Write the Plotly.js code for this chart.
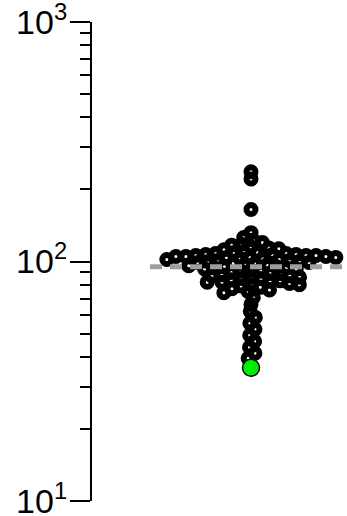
<!DOCTYPE html>
<html><head><meta charset="utf-8">
<script src="https://cdn.plot.ly/plotly-3.0.1.min.js"></script>
<style>html,body{margin:0;padding:0;background:#fff}#chart{width:347px;height:516px}</style></head>
<body><div id="chart"></div>
<script>
// Data (log scale values)
const values = [
  237, 221, 165,
  132, 126, 123, 120, 118, 117, 115, 114, 113, 112,
  110, 109, 109, 108, 108, 107, 107, 107, 106, 106, 106, 105, 105, 105, 104, 104, 104,
  103, 103, 102, 102, 101, 101, 100, 100,
  99, 99, 98, 98, 97, 97, 96, 95, 95, 94, 94, 93, 93, 92, 91, 91,
  90, 89, 89, 88, 87, 87, 86, 86, 85, 85, 84, 83, 83, 82, 82, 81, 80, 80, 79, 78, 77, 76, 75, 74,
  70.8, 66.2, 61.9, 58.4, 55.2, 52.1, 49.2, 46.4, 43.8, 41.4, 39.4
];
const highlightValues = [36];
const referenceValue = 95;
const tickValues = [10, 100, 1000];
const tickLabels = ['10<sup>1</sup>', '10<sup>2</sup>', '10<sup>3</sup>'];

const W = 347, H = 516, M = {l: 92, r: 0, t: 22, b: 15};
const plotH = H - M.t - M.b;
const yMin = 0.9995, yMax = 3.0005;
const xRange = [-159, 96];   // pixel-offset units around the swarm centre
const lineStart = -101;
function yPix(v) { return (yMax - Math.log10(v)) / (yMax - yMin) * plotH; }

// swarm layout computed from the values (elliptical spacing)
const DX = 10, DY = 7;
const sorted = values.slice().sort((a, b) => b - a);
const placed = [];
const ok = (x, y) => placed.every(p => ((p.x - x) / DX) ** 2 + ((p.y - y) / DY) ** 2 >= 1 - 1e-6);
sorted.forEach(v => {
  const y = yPix(v);
  const cands = [0];
  placed.forEach(p => {
    const dy = Math.abs(p.y - y);
    if (dy < DY) { const dx = DX * Math.sqrt(1 - (dy / DY) ** 2); cands.push(p.x + dx, p.x - dx); }
  });
  cands.sort((a, b) => Math.abs(a) - Math.abs(b) || a - b);
  for (const x of cands) { if (ok(x, y)) { placed.push({x, y, v}); break; } }
});

const minorVals = [];
for (let e = 1; e < 3; e++) for (let k = 2; k <= 9; k++) minorVals.push(k * Math.pow(10, e));

const traces = [
  {
    type: 'scatter', mode: 'markers',
    x: placed.map(p => p.x), y: placed.map(p => p.v),
    marker: {symbol: 'circle-open', size: 9, color: '#000000', line: {width: 6}},
    hoverinfo: 'y', showlegend: false
  },
  {
    type: 'scatter', mode: 'lines',
    x: [lineStart, xRange[1] + 10], y: [referenceValue, referenceValue],
    line: {color: '#9e9e9e', width: 5, dash: '12px,8px'},
    hoverinfo: 'skip', showlegend: false
  },
  {
    type: 'scatter', mode: 'markers',
    x: highlightValues.map(() => 0), y: highlightValues,
    marker: {size: 17, color: '#00ee00', line: {color: '#000000', width: 1.5}},
    hoverinfo: 'y', showlegend: false
  }
];

const layout = {
  width: W, height: H,
  margin: M,
  paper_bgcolor: '#ffffff', plot_bgcolor: '#ffffff',
  showlegend: false,
  xaxis: {range: xRange, visible: false, fixedrange: true},
  yaxis: {
    type: 'log', range: [yMin, yMax],
    tickmode: 'array', tickvals: tickValues, ticktext: tickLabels,
    ticks: 'outside', ticklen: 20, tickwidth: 2, tickcolor: '#000',
    ticklabeloverflow: 'allow', ticklabelstandoff: -4,
    showline: true, linewidth: 2, linecolor: '#000',
    showgrid: false, zeroline: false,
    tickfont: {family: 'Liberation Sans, Arial, sans-serif', size: 34, color: '#000'},
    minor: {tickvals: minorVals, ticks: 'outside', ticklen: 10, tickwidth: 2, tickcolor: '#000', showgrid: false}
  }
};
Plotly.newPlot('chart', traces, layout, {displayModeBar: false, staticPlot: true});
</script></body></html>
